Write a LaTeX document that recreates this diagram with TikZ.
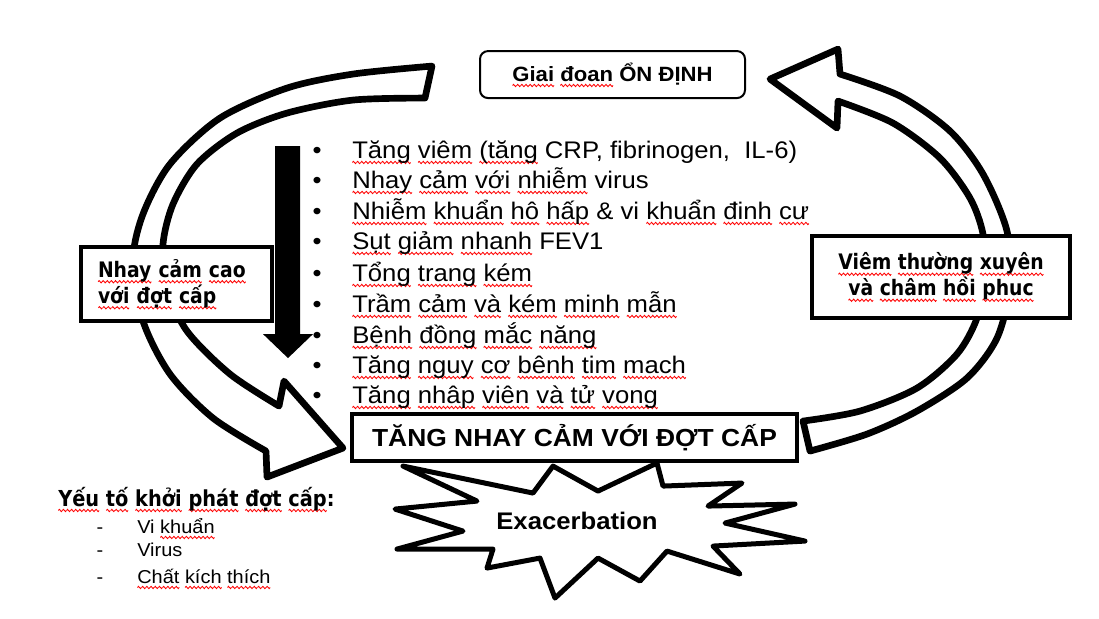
\documentclass[tikz,border=0pt]{standalone}
\usepackage{fontspec}
\setmainfont{Liberation Sans}[FakeStretch=1.07]
\newfontfamily\tahomafont{DejaVu Sans}[FakeStretch=0.88]
\usetikzlibrary{positioning}
\newsavebox\wavebox
\newsavebox\wordbox
\newcommand\sq[1]{\leavevmode\setbox\wordbox\hbox{#1}\rlap{\raisebox{-3.3pt}{\hbox to \wd\wordbox{\xleaders\copy\wavebox\hfil}}}\box\wordbox}
\tikzstyle{phase_box} = [draw, fill = white, line width = 1.5pt, rounded corners = 6pt, minimum width = 198.75pt, minimum height = 35.25pt, font = \bfseries\fontsize{15.5}{18}\selectfont]
\tikzstyle{label_box} = [draw, fill = white, line width = 2.4pt, font = \tahomafont\bfseries\fontsize{16}{19.5}\selectfont]
\tikzstyle{alert_box} = [draw, fill = white, line width = 2.4pt, minimum width = 333.75pt, minimum height = 35.25pt, font = \bfseries\fontsize{18.5}{21}\selectfont]
\tikzstyle{block_arrow} = [draw, fill = white, line width = 5pt, line join = round]
\tikzstyle{burst} = [draw, fill = white, line width = 3.75pt, line join = round]
\tikzstyle{list_dot} = [anchor = base, inner sep = 0, font = \fontsize{18}{21}\selectfont]
\tikzstyle{list_item} = [anchor = base west, inner sep = 0, font = \fontsize{18}{21}\selectfont]
\tikzstyle{cause_item} = [anchor = base west, inner sep = 0, font = \fontsize{14}{17}\selectfont]
\tikzstyle{cause_dash} = [anchor = base, inner sep = 0, font = \fontsize{14}{17}\selectfont]

\begin{document}
\begin{tikzpicture}[x = 0.75pt, y = -0.75pt]
    \sbox\wavebox{\tikz[baseline = 0pt]{\useasboundingbox (0pt,-0.8pt) rectangle (3pt,0.8pt); \draw[red, line width = 0.65pt] (0pt,0pt) sin (0.75pt,0.85pt) cos (1.5pt,0pt) sin (2.25pt,-0.85pt) cos (3pt,0pt);}}
    \useasboundingbox (0,0) rectangle (1099,617);

    % left arrow: stable -> susceptible
    \draw[block_arrow] plot[smooth] coordinates {(432,65) (353,73) (287,87) (220,117) (170,163) (143,213) (133,260) (143,320) (170,373) (213,417) (266,450)}
        -- (267,476) -- (343,447) -- (284,380) -- (279,405)
        -- plot[smooth] coordinates {(279,405) (230,373) (187,330) (166,285) (163,243) (173,203) (197,163) (237,132) (287,112) (353,99) (425,97)}
        -- cycle;

    % right arrow: back to stable
    \draw[block_arrow] plot[smooth] coordinates {(810,450) (867,433) (917,410) (967,377) (997,337) (1010,285) (1007,230) (983,173) (950,130) (900,95) (840,73)}
        -- (838,48) -- (770,78) -- (837,127) -- (838,100)
        -- plot[smooth] coordinates {(838,100) (893,122) (940,157) (970,197) (983,233) (985,275) (977,317) (957,353) (917,387) (860,410) (803,420)}
        -- cycle;

    % exacerbation burst
    \draw[burst] (403,465) -- (533,492) -- (553,465) -- (598,490) -- (657,462) -- (663,485) -- (742,482) -- (708,505)
        -- (795,503) -- (725,522) -- (805,540) -- (713,545) -- (740,573) -- (667,550) -- (640,580) -- (598,557)
        -- (555,597) -- (540,557) -- (487,567) -- (493,548) -- (397,548) -- (463,530) -- (395,508) -- (477,500) -- cycle;
    \node[font = \bfseries\fontsize{18}{21}\selectfont] (exacerbation) at (577,520) {Exacerbation};

    \node[phase_box] (stable) at (612.5,73.5) {\sq{Giai} \sq{đoan} ỔN ĐỊNH};
    \node[label_box, minimum width = 143.25pt, minimum height = 55.5pt, text width = 117.75pt, inner xsep = 12.75pt, align = left] (prone) at (176.5,283) {\sq{Nhay} \sq{cảm} \sq{cao}\\\sq{với} \sq{đợt} \sq{cấp}};
    \node[label_box, minimum width = 193.5pt, minimum height = 61.5pt, align = center] (recovery) at (941,276) {\sq{Viêm} \sq{thường} \sq{xuyên}\\\sq{và} \sq{châm} \sq{hồi} \sq{phuc}};
    \node[alert_box] (susceptible) at (574.5,436.5) {TĂNG NHAY CẢM VỚI ĐỢT CẤP};

    % downward arrow
    \fill (275,145) -- (300,145) -- (300,333) -- (313,333) -- (288,357) -- (263,333) -- (275,333) -- cycle;

    % consequences
    \node[list_dot] (dot1) at (317,157) {•};
    \node[list_item] (item1) at (352,157) {\sq{Tăng} \sq{viêm} \sq{(tăng} CRP, fibrinogen,\ \ IL-6)};
    \node[list_dot] (dot2) at (317,187) {•};
    \node[list_item] (item2) at (352,187) {\sq{Nhay} \sq{cảm} \sq{với} \sq{nhiễm} virus};
    \node[list_dot] (dot3) at (317,218) {•};
    \node[list_item] (item3) at (352,218) {\sq{Nhiễm} \sq{khuẩn} \sq{hô} \sq{hấp} \& vi \sq{khuẩn} \sq{đinh} \sq{cư}};
    \node[list_dot] (dot4) at (317,248) {•};
    \node[list_item] (item4) at (352,248) {\sq{Sụt} \sq{giảm} \sq{nhanh} FEV1};
    \node[list_dot] (dot5) at (317,280) {•};
    \node[list_item] (item5) at (352,280) {\sq{Tổng} \sq{trang} \sq{kém}};
    \node[list_dot] (dot6) at (317,311) {•};
    \node[list_item] (item6) at (352,311) {\sq{Trầm} \sq{cảm} \sq{và} \sq{kém} \sq{minh} \sq{mẫn}};
    \node[list_dot] (dot7) at (317,342) {•};
    \node[list_item] (item7) at (352,342) {\sq{Bệnh} \sq{đồng} \sq{mắc} \sq{năng}};
    \node[list_dot] (dot8) at (317,372) {•};
    \node[list_item] (item8) at (352,372) {\sq{Tăng} \sq{nguy} \sq{cơ} \sq{bênh} \sq{tim} \sq{mach}};
    \node[list_dot] (dot9) at (317,402) {•};
    \node[list_item] (item9) at (352,402) {\sq{Tăng} \sq{nhâp} \sq{viên} \sq{và} \sq{tử} \sq{vong}};

    % triggers
    \node[anchor = base west, inner sep = 0, font = \tahomafont\bfseries\fontsize{16.5}{19}\selectfont] (triggers) at (58,505) {\sq{Yếu} \sq{tố} \sq{khởi} \sq{phát} \sq{đợt} \sq{cấp}:};
    \node[cause_dash] (dash1) at (100,532) {-};
    \node[cause_item] (cause1) at (137,532) {Vi \sq{khuẩn}};
    \node[cause_dash] (dash2) at (100,555) {-};
    \node[cause_item] (cause2) at (137,555) {Virus};
    \node[cause_dash] (dash3) at (100,582) {-};
    \node[cause_item] (cause3) at (137,582) {\sq{Chất} \sq{kích} \sq{thích}};
\end{tikzpicture}
\end{document}
